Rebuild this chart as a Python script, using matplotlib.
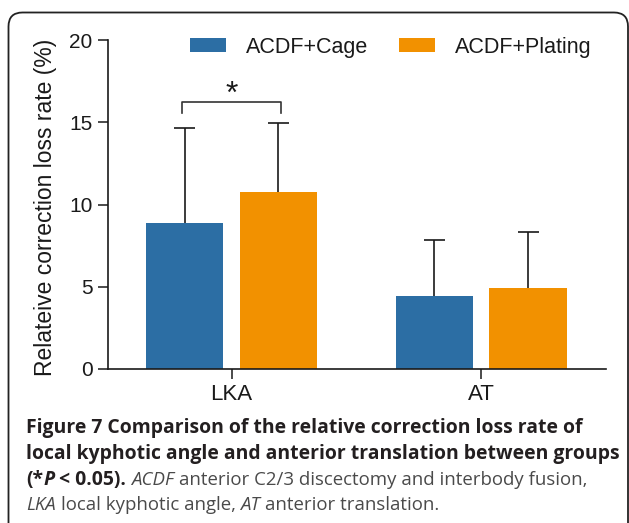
import matplotlib
matplotlib.use('Agg')
import matplotlib.pyplot as plt
from matplotlib.patches import FancyBboxPatch
from matplotlib.transforms import IdentityTransform
import numpy as np

# ---------------- data ----------------
categories = ['LKA', 'AT']
series_names = ['ACDF+Cage', 'ACDF+Plating']
cage_mean = [8.9, 4.42]
cage_sd = [5.75, 3.4]
plating_mean = [10.75, 4.92]
plating_sd = [4.22, 3.41]
y_ticks = [0, 5, 10, 15, 20]
y_label = 'Relateive correction loss rate (%)'
sig_label = '*'

caption_lines = [
    [('Figure 7 Comparison of the relative correction loss rate of', 'bold', 'normal')],
    [('local kyphotic angle and anterior translation between groups', 'bold', 'normal')],
    [('(*', 'bold', 'normal'), ('P', 'bold', 'italic'), (' < 0.05).', 'bold', 'normal'),
     (' ACDF', 'normal', 'italic'), (' anterior C2/3 discectomy and interbody fusion,', 'normal', 'normal')],
    [('LKA', 'normal', 'italic'), (' local kyphotic angle, ', 'normal', 'normal'),
     ('AT', 'normal', 'italic'), (' anterior translation.', 'normal', 'normal')],
]

# ---------------- style ----------------
W, H = 629, 523
BLUE = '#2C6EA4'
ORANGE = '#F29100'
INK = '#1a1a1a'
plt.rcParams['font.family'] = ['Liberation Sans', 'DejaVu Sans']

fig = plt.figure(figsize=(W / 100, H / 100), dpi=100)

# rounded frame around figure + caption
frame = FancyBboxPatch((8.5, -30), 628 - 8.5, (H - 12.5) + 30,
                       boxstyle='round,pad=0,rounding_size=14',
                       transform=IdentityTransform(), fill=False,
                       ec='#222222', lw=1.3)
fig.add_artist(frame)

ax = fig.add_axes([108 / W, 1 - 369 / H, (606 - 108) / W, (369 - 40) / H])

x = np.arange(len(categories))
off = 0.188
bw = 0.31
cap_half = 0.042

ax.bar(x - off, cage_mean, bw, color=BLUE, label=series_names[0], zorder=2)
ax.bar(x + off, plating_mean, bw, color=ORANGE, label=series_names[1], zorder=2)

for xs, m, s in [(x - off, cage_mean, cage_sd), (x + off, plating_mean, plating_sd)]:
    m = np.asarray(m)
    s = np.asarray(s)
    ax.vlines(xs, m, m + s, color=INK, lw=1.2, zorder=3)
    ax.hlines(m + s, xs - cap_half, xs + cap_half, color=INK, lw=1.2, zorder=3)

# significance bracket on LKA
bx = x[0]
ax.plot([bx - 0.2, bx - 0.2, bx + 0.2, bx + 0.2], [15.55, 16.25, 16.25, 15.55],
        color='#333333', lw=1.2, zorder=3)
ax.text(bx, 16.2, sig_label, ha='center', va='baseline', fontsize=23, color=INK)

ax.set_xlim(-0.495, 1.5)
ax.set_ylim(0, 20)
ax.set_yticks(y_ticks)
ax.set_xticks(x)
ax.set_xticklabels(categories)
for sp in ['top', 'right']:
    ax.spines[sp].set_visible(False)
for sp in ['left', 'bottom']:
    ax.spines[sp].set_linewidth(1.2)
    ax.spines[sp].set_color(INK)
ax.tick_params(axis='both', length=7.5, width=1.1, color=INK, labelcolor=INK, direction='out')
ax.tick_params(axis='y', labelsize=15, pad=3.5)
ax.tick_params(axis='x', labelsize=16, pad=3.5)
ax.set_ylabel(y_label, fontsize=16.5, color=INK, ha='center', va='center')
ax.yaxis.set_label_coords(-0.1265, 0.492)

leg = ax.legend(loc='center left', bbox_to_anchor=(190 / W, 1 - 47 / H),
                bbox_transform=fig.transFigure, ncol=2, frameon=False,
                fontsize=15.5, handlelength=1.67, handleheight=0.59,
                handletextpad=0.95, columnspacing=1.4, borderpad=0, borderaxespad=0)
for t in leg.get_texts():
    t.set_color(INK)

# ---------------- caption ----------------
CAP_FAMILY = 'Open Sans'
BOLD_C = '#231f20'
REG_C = '#4a4a4a'
renderer = fig.canvas.get_renderer()


def measure(text, weight, style, size):
    t1 = fig.text(0, 0, '|' + text + '|', fontsize=size, fontweight=weight,
                  fontstyle=style, family=CAP_FAMILY)
    t2 = fig.text(0, 0, '||', fontsize=size, fontweight=weight,
                  fontstyle=style, family=CAP_FAMILY)
    w = t1.get_window_extent(renderer).width - t2.get_window_extent(renderer).width
    t1.remove()
    t2.remove()
    return w


base = 10.0
x_left = 26.0
line_right = [610, 622, 600, 438]

# bold size from the two all-bold lines
bold_size = min(base * (r - x_left) / sum(measure(t, w, s, base) for t, w, s in runs)
                for runs, r in zip(caption_lines[:2], line_right[:2]))
# regular size from the remaining lines (bold runs kept at bold size)
reg_sizes = []
for runs, r in zip(caption_lines[2:], line_right[2:]):
    bw_ = sum(measure(t, w, s, bold_size) for t, w, s in runs if w == 'bold')
    rw_ = sum(measure(t, w, s, base) for t, w, s in runs if w != 'bold')
    reg_sizes.append(base * (r - x_left - bw_) / rw_)
reg_size = min(reg_sizes)

baselines = [433, 459, 485, 510]
for runs, yb in zip(caption_lines, baselines):
    xp = x_left
    for text, weight, style in runs:
        size = bold_size if weight == 'bold' else reg_size
        col = BOLD_C if weight == 'bold' else REG_C
        nlead = len(text) - len(text.lstrip(' '))
        lead = measure(text[:nlead], weight, style, size) if nlead else 0
        body = text.strip(' ')
        fig.text((xp + lead) / W, 1 - yb / H, body, fontsize=size, fontweight=weight,
                 fontstyle=style, family=CAP_FAMILY, color=col, ha='left', va='baseline')
        xp += measure(text, weight, style, size)

fig.savefig('out.png', dpi=100)
